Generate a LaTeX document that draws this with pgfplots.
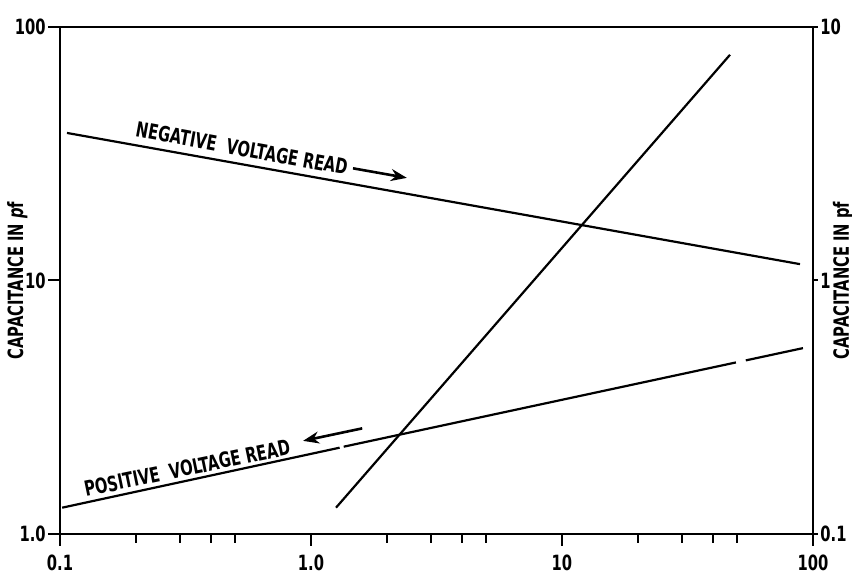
\documentclass[border=0pt]{standalone}
\usepackage{fontspec}
\usepackage{pgfplots}
\pgfplotsset{compat=1.18}
\usetikzlibrary{arrows.meta}
\newfontfamily\lab{DejaVu Sans Condensed}[FakeStretch=0.78]

% log-log lines, read at their drawn end points (left scale)
\pgfplotstableread{
x       y
0.1066  38.2
88.8    11.6
}\negread
\pgfplotstableread{
x       y
0.102   1.27
1.30    2.19
}\posreadA
\pgfplotstableread{
x       y
1.35    2.21
49.3    4.75
}\posreadB
\pgfplotstableread{
x       y
54.0    4.84
91.2    5.41
}\posreadC
\pgfplotstableread{
x       y
1.258   1.27
46.7    77.7
}\steep

\begin{document}
\begin{tikzpicture}
\path[use as bounding box] (-30pt,-24pt) rectangle (396pt,267pt);
\begin{axis}[
  at={(0,0)}, anchor=south west,
  scale only axis, width=376.5pt, height=253.5pt,
  xmode=log, ymode=log,
  xmin=0.1, xmax=100, ymin=1, ymax=100,
  axis line style={line width=1.4pt},
  every tick/.style={black, line width=1pt},
  tick align=outside,
  xtick pos=bottom, ytick pos=left,
  xtick={0.1,1,10,100}, xticklabels={0.1,1.0,10,100},
  minor xtick={0.2,0.3,0.4,0.5,2,3,4,5,20,30,40,50},
  major tick length=6pt, minor tick length=4.5pt,
  ytick={1,10,100}, yticklabels={1.0,10,100},
  yminorticks=false,
  /pgf/number format/assume math mode=true,
  ticklabel style={font=\lab\bfseries\fontsize{10.5}{11}\selectfont},
  xticklabel style={yshift=-1pt},
  yticklabel style={inner sep=0.5pt, xshift=-0.5pt},
  ylabel={CAPACITANCE IN \textit{p}f},
  ylabel style={font=\lab\bfseries\fontsize{10.5}{11}\selectfont,
    at={(axis description cs:-0.0565,0.5)}, anchor=center},
  clip=false,
]
\addplot[black, line width=1.1pt] table {\negread};
\addplot[black, line width=1.1pt] table {\posreadA};
\addplot[black, line width=1.1pt] table {\posreadB};
\addplot[black, line width=1.1pt] table {\posreadC};
\addplot[black, line width=1.1pt] table {\steep};
% direction arrows beside the labels
\addplot[black, line width=1.3pt, -{Stealth[length=8pt,width=6pt]}]
  coordinates {(1.47,27.7) (2.41,25.4)};
\addplot[black, line width=1.3pt, -{Stealth[length=8pt,width=6pt]}]
  coordinates {(1.60,2.61) (0.93,2.33)};
\node[font=\lab\bfseries\fontsize{10.5}{11}\selectfont, rotate=-10.3]
  at (axis cs:0.531,33.2) {NEGATIVE\ \ VOLTAGE READ};
\node[font=\lab\bfseries\fontsize{10.5}{11}\selectfont, rotate=11.7]
  at (axis cs:0.321,1.82) {POSITIVE\ \ VOLTAGE READ};
\end{axis}
\begin{axis}[
  at={(0,0)}, anchor=south west,
  scale only axis, width=376.5pt, height=253.5pt,
  xmode=log, ymode=log,
  xmin=0.1, xmax=100, ymin=0.1, ymax=10,
  axis x line=none,
  axis y line*=right,
  axis line style={line width=1.4pt},
  every tick/.style={black, line width=1pt},
  tick align=outside,
  ytick={0.1,1,10}, yticklabels={0.1,1,10},
  major tick length=2.5pt,
  yminorticks=false,
  /pgf/number format/assume math mode=true,
  ticklabel style={font=\lab\bfseries\fontsize{10.5}{11}\selectfont},
  yticklabel style={inner sep=0.5pt, xshift=0.5pt},
  ylabel={CAPACITANCE IN pf},
  ylabel style={font=\lab\bfseries\fontsize{10.5}{11}\selectfont,
    at={(axis description cs:1.04,0.5)}, anchor=center},
]
\end{axis}
\end{tikzpicture}
\end{document}
